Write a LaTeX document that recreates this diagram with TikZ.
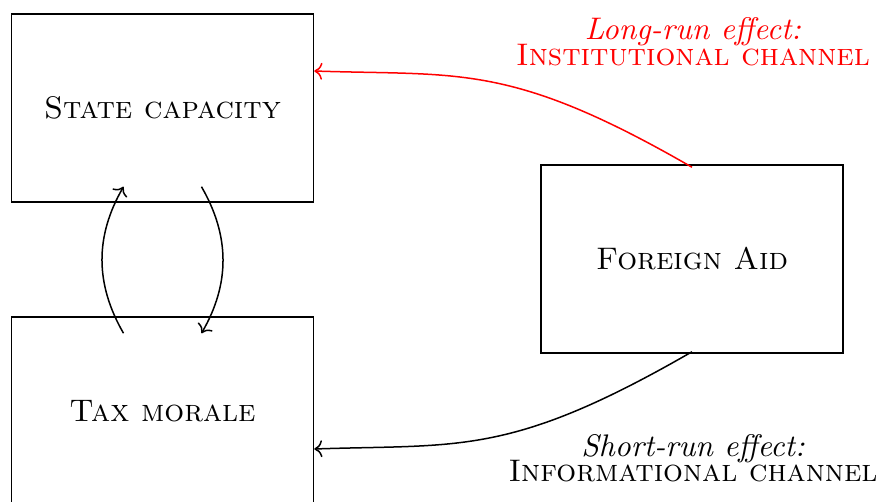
\documentclass[tikz,border=0pt]{standalone}
\usepackage{graphicx}
\usetikzlibrary{arrows.meta}
\newcommand{\bigtxt}[1]{\scalebox{3.12}{#1}}
\newcommand{\twolines}[2]{\vbox{\baselineskip=8.33pt\lineskiplimit=-20pt\lineskip=0pt\halign{\hfil##\hfil\cr #1\cr #2\cr}}}
\begin{document}
\begin{tikzpicture}[x=1pt,y=-1pt,
  box/.style={draw, line width=1.5pt, minimum width=302pt, minimum height=188pt, inner sep=0pt},
  lbl/.style={inner sep=0pt, anchor=base},
  conn/.style={line width=1.5pt, -{To[length=8pt,width=17pt,line width=1.5pt]}}
]
\useasboundingbox (0,0) rectangle (881,502);
\clip (0,0) rectangle (881,502);
\node[box] (state) at (162.5,108) {\bigtxt{\textsc{State capacity}}};
\node[box] (tax) at (162.5,411) {\bigtxt{\textsc{Tax morale}}};
\node[box] (aid) at (692,259) {\bigtxt{\textsc{Foreign Aid}}};

\coordinate (sl) at ([xshift=-39pt,yshift=16pt]state.south);
\coordinate (sr) at ([xshift=39pt,yshift=16pt]state.south);
\coordinate (tl) at ([xshift=-39pt,yshift=-17pt]tax.north);
\coordinate (tr) at ([xshift=39pt,yshift=-17pt]tax.north);
\coordinate (sin) at ([yshift=37pt]state.east);
\coordinate (tin) at ([yshift=-38pt]tax.east);
\coordinate (aidtop) at ([yshift=-3pt]aid.north);
\coordinate (aidbot) at ([yshift=2pt]aid.south);

\draw[conn] (tl) to[bend left=30] (sl);
\draw[conn] (sr) to[bend left=30] (tr);

\draw[conn, red] (aidtop) .. controls +(-182,-105) and +(146,5) .. (sin);
\draw[conn] (aidbot) .. controls +(-182,105) and +(146,-5) .. (tin);

\node[lbl, red] (longlbl) at (693,65.3) {\bigtxt{\twolines{\textit{Long-run effect:}}{\textsc{Institutional channel}}}};
\node[lbl] (shortlbl) at (693,482) {\bigtxt{\twolines{\textit{Short-run effect:}}{\textsc{Informational channel}}}};
\end{tikzpicture}
\end{document}
